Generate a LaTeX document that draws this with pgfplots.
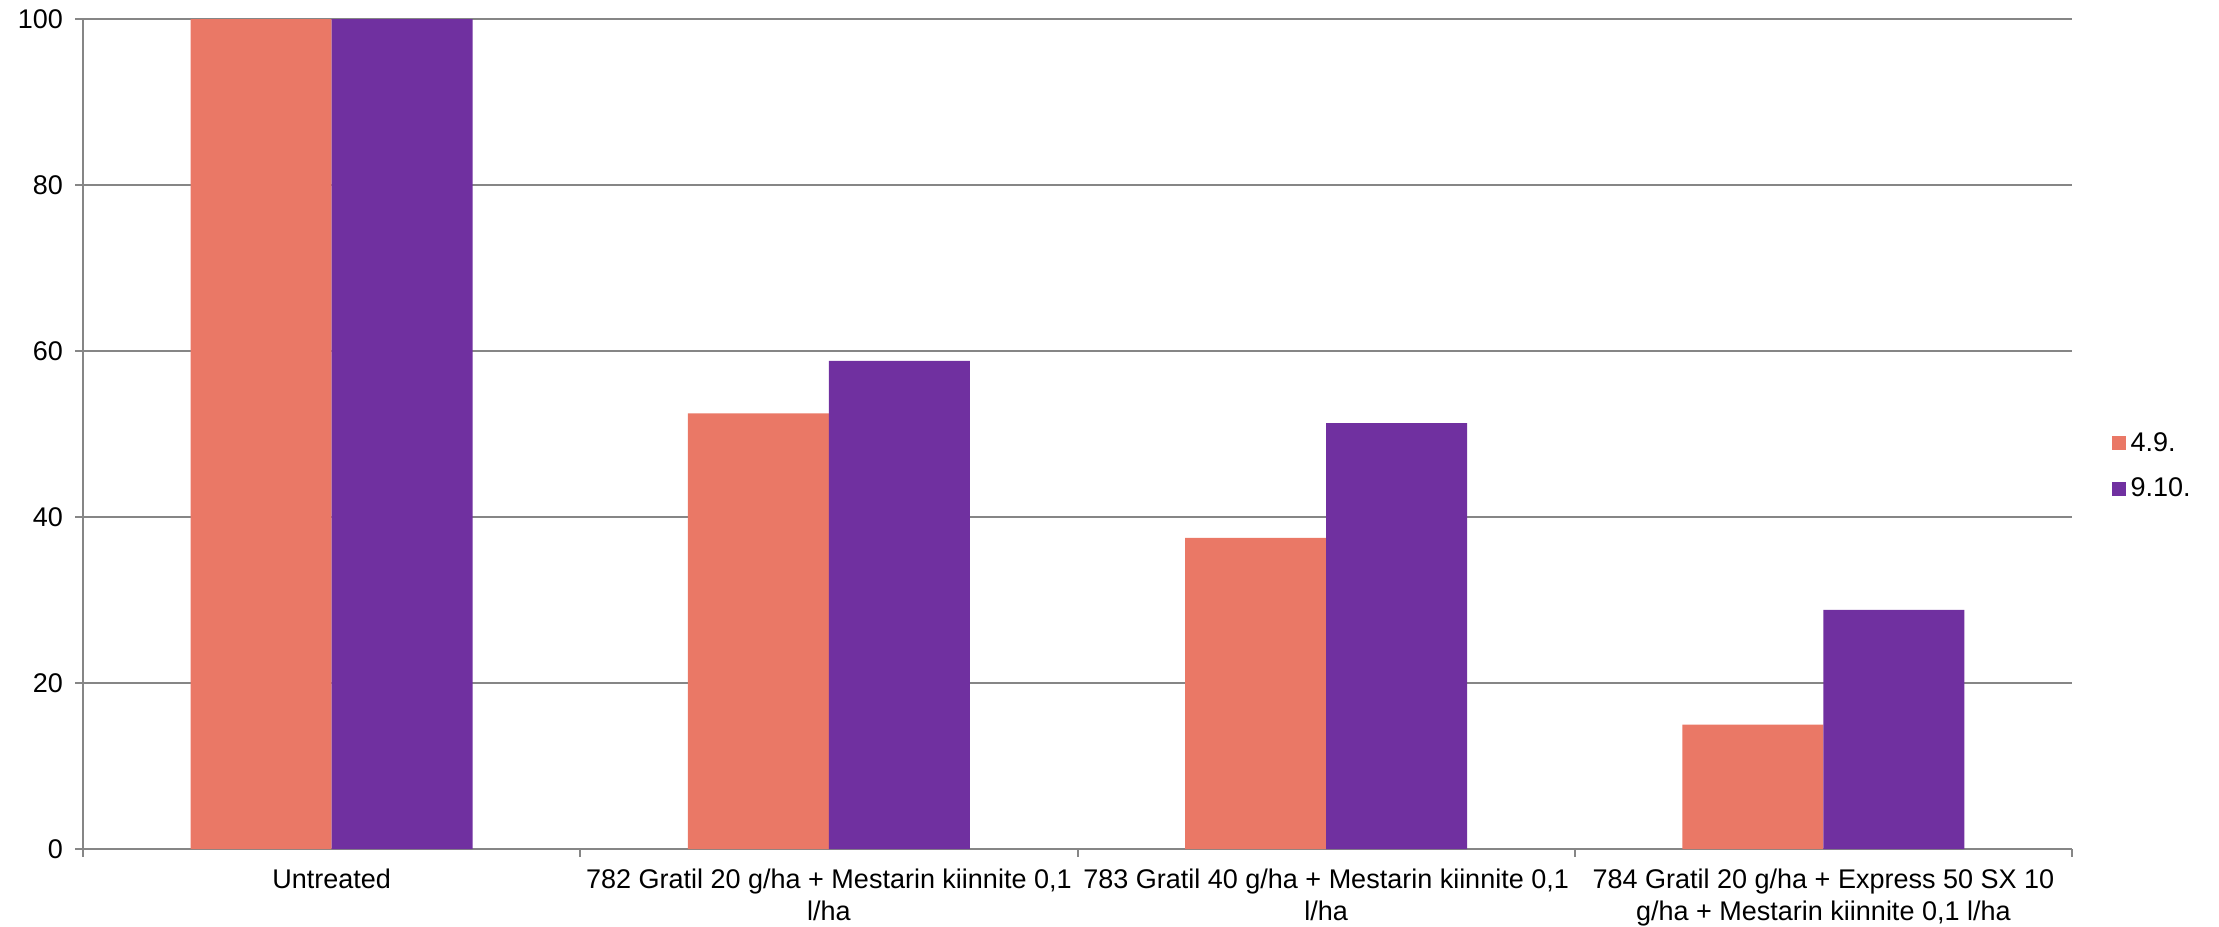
\documentclass[border=0pt]{standalone}
\usepackage{fontspec}
\setmainfont{Liberation Sans}
\usepackage{pgfplots}
\pgfplotsset{compat=1.18}

\definecolor{sarjaA}{HTML}{EA7866}
\definecolor{sarjaB}{HTML}{7030A0}
\definecolor{viiva}{HTML}{868686}

\begin{document}
\begin{tikzpicture}
\path[use as bounding box] (-33.2pt,-30.8pt) rectangle (854.4pt,339.6pt);
\begin{axis}[
    at={(0,0)}, anchor=south west,
    scale only axis,
    width=795.6pt,
    height=332pt,
    font=\fontsize{10.8}{12.6}\selectfont,
    /pgf/number format/assume math mode=true,
    ymin=0, ymax=100,
    ytick={0,20,...,100},
    xmin=-0.5, xmax=3.5,
    xtick={0,1,2,3},
    xticklabels={
        Untreated,
        {782 Gratil 20 g/ha + Mestarin kiinnite 0,1\\l/ha},
        {783 Gratil 40 g/ha + Mestarin kiinnite 0,1\\l/ha},
        {784 Gratil 20 g/ha + Express 50 SX 10\\g/ha + Mestarin kiinnite 0,1 l/ha}
    },
    xticklabel style={align=center, anchor=north, yshift=-1.5pt},
    yticklabel style={xshift=-1.5pt},
    minor xtick={-0.5,0.5,1.5,2.5,3.5},
    major tick length=3pt,
    minor tick length=3pt,
    tick align=outside,
    tick style={viiva, line width=0.8pt},
    minor tick style={viiva, line width=0.8pt},
    every major x tick/.append style={draw=none},
    axis x line*=bottom,
    axis y line*=left,
    axis line style={viiva, line width=0.8pt},
    ymajorgrids,
    major grid style={viiva, line width=0.8pt},
    ybar=0pt,
    bar width=56.4pt,
    legend style={
        at={(1.0196,0.4614)}, anchor=west,
        draw=none, fill=none,
        inner sep=0pt,
        row sep=7pt,
        font=\fontsize{10.8}{12}\selectfont,
        nodes={inner ysep=1pt, inner xsep=2pt, anchor=west},
    },
    legend cell align=left,
    legend image code/.code={\fill[#1] (0pt,-2.8pt) rectangle (5.6pt,2.8pt);},
]
\addplot[fill=sarjaA, draw=none] coordinates {
    (0,100) (1,52.5) (2,37.5) (3,15.0)
};
\addplot[fill=sarjaB, draw=none] coordinates {
    (0,100) (1,58.8) (2,51.3) (3,28.8)
};
\legend{4.9., 9.10.}
\end{axis}
\end{tikzpicture}
\end{document}
